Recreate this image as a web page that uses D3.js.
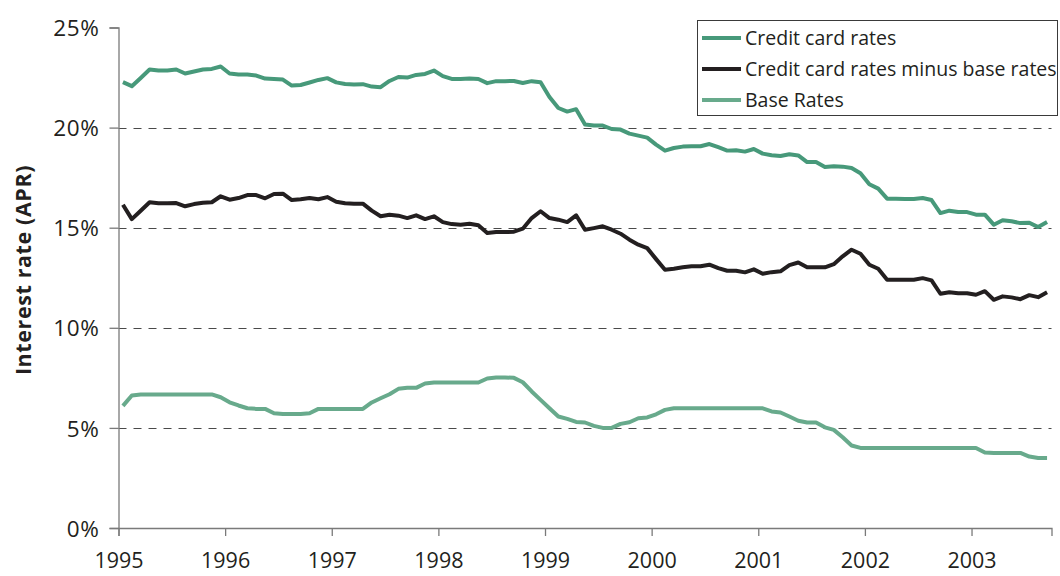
<!DOCTYPE html>
<html>
<head>
<meta charset="utf-8">
<script src="https://cdn.jsdelivr.net/npm/d3@7"></script>
<style>
  html, body { margin: 0; padding: 0; background: #ffffff; }
  svg { display: block; font-family: "Open Sans", "Noto Sans", sans-serif; }
</style>
</head>
<body>
<svg id="chart" width="1060" height="576"></svg>
<script>
// Monthly series, January 1995 to September 2003 (percent APR)
const yearLabels = ["1995", "1996", "1997", "1998", "1999", "2000", "2001", "2002", "2003"];
const yTicks = [0, 5, 10, 15, 20, 25];

const creditCardRates = [
  22.27, 22.07, 22.48, 22.90, 22.85, 22.85, 22.90, 22.70, 22.80, 22.90, 22.93, 23.05,
  22.70, 22.65, 22.65, 22.60, 22.45, 22.43, 22.40, 22.10, 22.13, 22.25, 22.38, 22.47,
  22.26, 22.18, 22.15, 22.17, 22.05, 22.02, 22.33, 22.53, 22.50, 22.63, 22.68, 22.85,
  22.57, 22.43, 22.43, 22.45, 22.43, 22.22, 22.32, 22.32, 22.33, 22.23, 22.32, 22.27,
  21.53, 20.98, 20.80, 20.92, 20.15, 20.10, 20.10, 19.93, 19.90, 19.70, 19.60, 19.50,
  19.15, 18.85, 18.98, 19.05, 19.07, 19.07, 19.18, 19.02, 18.85, 18.87, 18.80, 18.93,
  18.70, 18.62, 18.58, 18.67, 18.61, 18.28, 18.28, 18.03, 18.07, 18.05, 17.98, 17.72,
  17.17, 16.95, 16.45, 16.45, 16.43, 16.43, 16.48, 16.38, 15.73, 15.85, 15.78, 15.78,
  15.65, 15.65, 15.15, 15.37, 15.32, 15.23, 15.25, 15.03, 15.28
];

const spreadRates = [
  16.15, 15.43, 15.85, 16.27, 16.22, 16.22, 16.23, 16.07, 16.18, 16.25, 16.27, 16.57,
  16.40, 16.48, 16.63, 16.63, 16.47, 16.68, 16.70, 16.38, 16.42, 16.48, 16.42, 16.53,
  16.30, 16.22, 16.20, 16.20, 15.85, 15.57, 15.65, 15.60, 15.48, 15.62, 15.43, 15.57,
  15.28, 15.18, 15.15, 15.20, 15.12, 14.73, 14.78, 14.78, 14.80, 14.95, 15.48, 15.82,
  15.48, 15.40, 15.28, 15.62, 14.90, 14.98, 15.07, 14.90, 14.70, 14.40, 14.15, 13.98,
  13.43, 12.90, 12.95, 13.02, 13.07, 13.07, 13.15, 12.98, 12.85, 12.85, 12.77, 12.92,
  12.70, 12.78, 12.82, 13.13, 13.26, 13.02, 13.02, 13.02, 13.18, 13.57, 13.90, 13.70,
  13.15, 12.95, 12.40, 12.40, 12.40, 12.40, 12.48, 12.37, 11.70, 11.78, 11.73, 11.73,
  11.65, 11.83, 11.40, 11.57, 11.52, 11.43, 11.63, 11.53, 11.77
];

const baseRates = [
  6.10, 6.62, 6.67, 6.67, 6.67, 6.67, 6.67, 6.67, 6.67, 6.67, 6.67, 6.53,
  6.28, 6.12, 5.98, 5.95, 5.95, 5.73, 5.70, 5.70, 5.70, 5.73, 5.95, 5.95,
  5.95, 5.95, 5.95, 5.95, 6.27, 6.48, 6.68, 6.95, 7.00, 7.00, 7.22, 7.27,
  7.27, 7.27, 7.27, 7.27, 7.27, 7.47, 7.52, 7.52, 7.50, 7.28, 6.82, 6.40,
  5.98, 5.57, 5.45, 5.30, 5.27, 5.10, 5.00, 5.00, 5.20, 5.28, 5.48, 5.52,
  5.68, 5.90, 5.98, 5.98, 5.98, 5.98, 5.98, 5.98, 5.98, 5.98, 5.98, 5.98,
  5.98, 5.82, 5.77, 5.57, 5.36, 5.27, 5.27, 5.03, 4.90, 4.53, 4.12, 4.00,
  4.00, 4.00, 4.00, 4.00, 4.00, 4.00, 4.00, 4.00, 4.00, 4.00, 4.00, 4.00,
  4.00, 3.77, 3.75, 3.75, 3.75, 3.75, 3.57, 3.50, 3.50
];

const seriesNames = ["Credit card rates", "Credit card rates minus base rates", "Base Rates"];
const seriesColors = ["#47997a", "#231f20", "#68aa8c"];
const seriesData = [creditCardRates, spreadRates, baseRates];

const svg = d3.select("#chart");
const textColor = "#231f20";
const axisColor = "#7a7a7a";
const font = "'Open Sans', sans-serif";

// One category slot per month; ticks fall on year boundaries, points at slot centres
const nMonths = creditCardRates.length;
const x = d3.scaleLinear().domain([0, nMonths]).range([118.5, 1051.5]);
const y = d3.scaleLinear().domain([0, 25]).range([528, 27.5]);

// Dashed horizontal gridlines
svg.append("g")
  .selectAll("line")
  .data(yTicks.filter(v => v > 0 && v < 25))
  .join("line")
  .attr("x1", x(0)).attr("x2", x(nMonths))
  .attr("y1", d => Math.round(y(d)) + 0.5).attr("y2", d => Math.round(y(d)) + 0.5)
  .attr("stroke", "#4a4a4a")
  .attr("stroke-width", 1)
  .attr("stroke-dasharray", "8,7");

// Y axis
const yAxis = svg.append("g")
  .attr("transform", `translate(${x(0)},0)`)
  .call(d3.axisLeft(y).tickValues(yTicks).tickFormat(d => d + "%").tickSize(9).tickPadding(10));
yAxis.select(".domain").attr("stroke", axisColor).attr("stroke-width", 1.3);
yAxis.selectAll(".tick line").attr("stroke", axisColor).attr("stroke-width", 1.3);
yAxis.selectAll(".tick text")
  .attr("fill", textColor)
  .style("font-family", font)
  .style("font-size", "22.5px")
  .style("letter-spacing", "0.6px")
  .attr("dy", "0.36em");

// X axis
const yearTickPos = yearLabels.map((_, i) => i * 12);
const xAxis = svg.append("g")
  .attr("transform", `translate(0,${y(0)})`)
  .call(d3.axisBottom(x).tickValues(yearTickPos).tickFormat((d, i) => yearLabels[i]).tickSize(8).tickPadding(17));
xAxis.select(".domain").attr("stroke", axisColor).attr("stroke-width", 1.3);
xAxis.selectAll(".tick line").attr("stroke", axisColor).attr("stroke-width", 1.3);
xAxis.selectAll(".tick text")
  .attr("fill", textColor)
  .style("font-family", font)
  .style("font-size", "21.5px");

// Y axis title
svg.append("text")
  .attr("transform", `translate(31,270) rotate(-90)`)
  .attr("text-anchor", "middle")
  .attr("fill", textColor)
  .style("font-family", font)
  .style("font-weight", "bold")
  .style("font-size", "21.5px")
  .style("letter-spacing", "0.6px")
  .text("Interest rate (APR)");

// Series lines
const line = d3.line()
  .x((d, i) => x(i + 0.5))
  .y(d => y(d));

svg.append("g")
  .selectAll("path")
  .data([2, 0, 1])
  .join("path")
  .attr("d", k => line(seriesData[k]))
  .attr("fill", "none")
  .attr("stroke", k => seriesColors[k])
  .attr("stroke-width", 4)
  .attr("stroke-linejoin", "round");

// Legend
const legend = svg.append("g");
legend.append("rect")
  .attr("x", 697.5).attr("y", 20.5)
  .attr("width", 360).attr("height", 95)
  .attr("fill", "#ffffff")
  .attr("stroke", "#3a3a3a")
  .attr("stroke-width", 1);

const rowY = [38, 69, 100];
seriesNames.forEach((name, k) => {
  legend.append("line")
    .attr("x1", 702).attr("x2", 741)
    .attr("y1", rowY[k]).attr("y2", rowY[k])
    .attr("stroke", seriesColors[k])
    .attr("stroke-width", 4);
  legend.append("text")
    .attr("x", 745).attr("y", rowY[k])
    .attr("dy", "0.35em")
    .attr("fill", textColor)
    .style("font-family", font)
    .style("font-size", "19.5px")
    .text(name);
});
</script>
</body>
</html>
